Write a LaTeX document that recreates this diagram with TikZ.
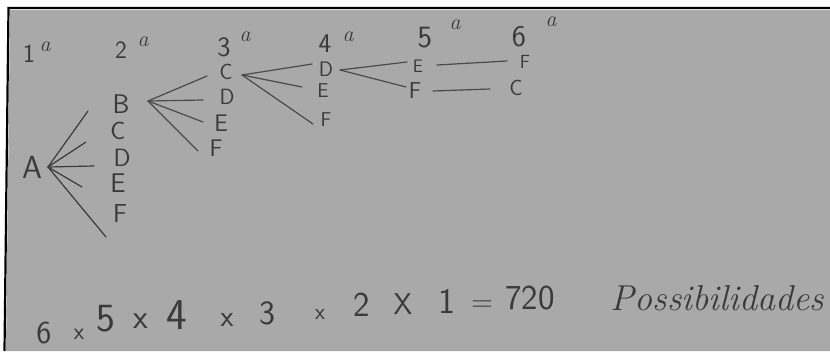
\documentclass[tikz,border=0pt]{standalone}
\usepackage{fontspec}
\usetikzlibrary{calc}
\definecolor{paper}{HTML}{A9A9A9}
\definecolor{ink}{HTML}{3A3A3A}
\definecolor{pencil}{HTML}{4A4A4A}
\begin{document}
\begin{tikzpicture}[x=1pt,y=-1pt,
  lt/.style={text=ink,inner sep=0pt,font=\sffamily\fontsize{#1}{#1}\selectfont},
  ord/.style={text=ink,inner sep=0pt,font=\rmfamily\itshape\fontsize{#1}{#1}\selectfont},
  cur/.style={text=ink,inner sep=0pt,font=\rmfamily\itshape\fontsize{#1}{#1}\selectfont},
  pen/.style={draw=pencil,line width=1.2pt,line cap=round}]
\fill[white] (0,0) rectangle (830,351);
\useasboundingbox (0,0) rectangle (830,351);
\fill[paper] (10,10) -- (830,10) -- (830,351) -- (6,351) -- cycle;
\draw[black,line width=2.2pt] (830,8) -- (8.5,8) -- (4.5,351);
% headers
\node[lt=26] (h1) at (29,54) {1};
\node[ord=22] (o1) at (45,47) {a};
\node[lt=25] (h2) at (121,50) {2};
\node[ord=22] (o2) at (143,42) {a};
\node[lt=28] (h3) at (224,47) {3};
\node[ord=22] (o3) at (245,37) {a};
\node[lt=27] (h4) at (325,44) {4};
\node[ord=22] (o4) at (348,37) {a};
\node[lt=31] (h5) at (425,38) {5};
\node[ord=22] (o5) at (455,25) {a};
\node[lt=30] (h6) at (519,37) {6};
\node[ord=22] (o6) at (551,22) {a};
% column 1
\node[lt=32] (A) at (32,167) {A};
% column 2
\node[lt=27] (B2) at (121,104) {B};
\node[lt=25] (C2) at (118,131) {C};
\node[lt=25] (D2) at (122,158) {D};
\node[lt=27] (E2) at (118,183) {E};
\node[lt=26] (F2) at (120,214) {F};
% column 3
\node[lt=22] (C3) at (226,72) {C};
\node[lt=22] (D3) at (227,97) {D};
\node[lt=24] (E3) at (221,123) {E};
\node[lt=24] (F3) at (216,148) {F};
% column 4
\node[lt=21] (D4) at (326,69) {D};
\node[lt=20] (E4) at (323,91) {E};
\node[lt=20] (F4) at (326,120) {F};
% column 5
\node[lt=18] (E5) at (418,66) {E};
\node[lt=23] (F5) at (415,91) {F};
% column 6
\node[lt=19] (F6) at (525,62) {F};
\node[lt=22] (C6) at (516,88) {C};
% fan from A
\coordinate (Av) at ($(A.center)+(16,0)$);
\coordinate (eAB) at (88,111);
\coordinate (eAC) at (86,142);
\coordinate (eAD) at (94,166);
\coordinate (eAE) at (82,187);
\coordinate (eAF) at (106,237);
\foreach \e in {eAB,eAC,eAD,eAE,eAF} \draw[pen,draw=ink] (Av) -- (\e);
% fan from B
\coordinate (Bv) at ($(B2.center)+(27,-3)$);
\coordinate (eBC) at (207,76);
\coordinate (eBD) at (203,100);
\coordinate (eBE) at (203,122);
\coordinate (eBF) at (198,151);
\foreach \e in {eBC,eBD,eBE,eBF} \draw[pen] (Bv) -- (\e);
% fan from C
\coordinate (Cv) at ($(C3.center)+(16,3)$);
\coordinate (eCD) at (312,64);
\coordinate (eCE) at (302,87);
\coordinate (eCF) at (313,124);
\foreach \e in {eCD,eCE,eCF} \draw[pen] (Cv) -- (\e);
% fan from D
\coordinate (Dv) at ($(D4.center)+(14,1)$);
\coordinate (eDE) at (407,62);
\coordinate (eDF) at (406,87);
\foreach \e in {eDE,eDF} \draw[pen] (Dv) -- (\e);
% last step
\coordinate (sE) at ($(E5.center)+(19,-1)$);
\coordinate (eEF) at (507,61);
\draw[pen] (sE) -- (eEF);
\coordinate (sF) at ($(F5.center)+(18,0)$);
\coordinate (eFC) at (490,89);
\draw[pen] (sF) -- (eFC);
% bottom line
\node[lt=32] (n6) at (44,333) {6};
\node[lt=24] (m1) at (79,334) {x};
\node[lt=40] (n5) at (106,319) {5};
\node[lt=34] (m2) at (141,321) {x};
\node[lt=44] (n4) at (177,315) {4};
\node[lt=30] (m3) at (227,320) {x};
\node[lt=34] (n3) at (267,313) {3};
\node[lt=23] (m4) at (320,315) {x};
\node[lt=35] (n2) at (362,305) {2};
\node[lt=30] (m5) at (403,304) {X};
\node[lt=36] (n1) at (447,301) {1};
\node[lt=30] (eq) at (482,306) {=};
\node[lt=35] (r) at (530,298) {720};
\node[cur=36,anchor=east] (p) at (824,298) {Possibilidades};
\end{tikzpicture}
\end{document}
